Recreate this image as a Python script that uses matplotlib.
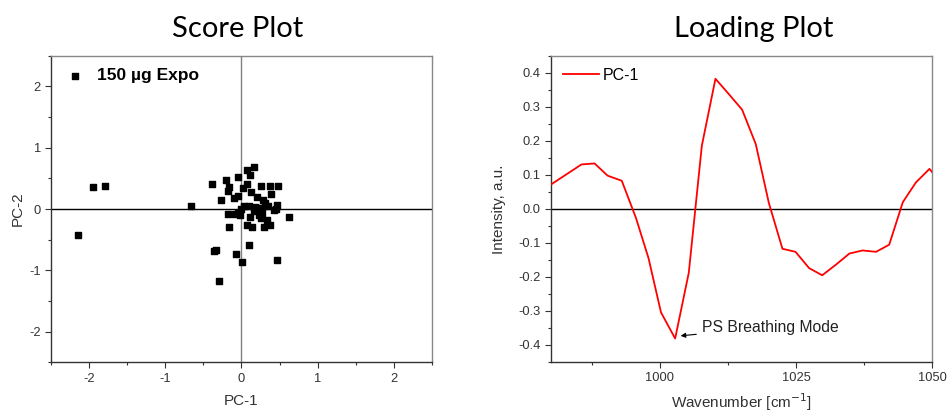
import numpy as np
import matplotlib
matplotlib.use("Agg")
import matplotlib.pyplot as plt
from matplotlib.ticker import MultipleLocator, FixedLocator

plt.rcParams['font.family'] = ['Liberation Sans', 'DejaVu Sans']
plt.rcParams['axes.unicode_minus'] = False

# --- score plot data (PC-1, PC-2) ---
pc1 = [-1.95, -1.79, -2.15, -0.66, -0.385, -0.36, -0.33, -0.29, -0.27,
       -0.197, -0.166, -0.175, -0.18, -0.166, -0.10, -0.066, -0.044,
       -0.044, -0.08, -0.048, 0.004, 0.02, 0.074, 0.17, 0.11, 0.074,
       0.13, 0.21, 0.26, 0.38, 0.477, 0.39, 0.28, 0.47, 0.45, 0.62,
       0.03, 0.096, 0.18, 0.25, 0.27, 0.118, 0.074, 0.14, 0.29, 0.38,
       0.25, 0.34, 0.096, 0.47, -0.022, 0.2, 0.31, 0.43, 0.16, 0.23,
       -0.01, 0.35]
pc2 = [0.366, 0.377, -0.42, 0.044, 0.40, -0.69, -0.67, -1.17, 0.14,
       0.475, 0.365, 0.29, -0.076, -0.29, 0.175, -0.74, 0.53,
       0.21, -0.087, -0.065, -0.86, 0.34, 0.64, 0.68, 0.55, 0.41,
       0.28, 0.20, 0.38, 0.38, 0.38, 0.24, 0.147, 0.065, 0.0, -0.125,
       0.044, 0.055, 0.033, 0.016, -0.065, -0.125, -0.26, -0.29, -0.29, -0.26,
       -0.153, -0.18, -0.595, -0.835, -0.093, 0.02, 0.1, -0.02, -0.03, -0.1,
       0.0, 0.05]

# --- loading plot data (PC-1) ---
wavenumber = [980.0, 985.6, 988.0, 990.4, 993.0, 995.6, 997.9, 1000.2, 1002.8,
              1005.3, 1007.7, 1010.2, 1012.6, 1015.1, 1017.6, 1020.0, 1022.5,
              1024.9, 1027.4, 1029.8, 1032.3, 1034.8, 1037.2, 1039.7, 1042.1,
              1044.6, 1047.0, 1049.5, 1050.5]
loading = [0.072, 0.131, 0.134, 0.098, 0.083, -0.026, -0.144, -0.304, -0.381,
           -0.188, 0.186, 0.383, 0.339, 0.292, 0.191, 0.018, -0.117,
           -0.126, -0.174, -0.195, -0.164, -0.131, -0.122, -0.126, -0.105,
           0.02, 0.078, 0.118, 0.098]

fig = plt.figure(figsize=(9.47, 4.12), dpi=100)
ax1 = fig.add_axes([0.0541, 0.1206, 0.4018, 0.7442])
ax2 = fig.add_axes([0.5818, 0.1214, 0.4026, 0.7427])

tick_color = '#333333'


def style_axes(ax):
    for side in ['left', 'bottom']:
        ax.spines[side].set_color('#333333')
    for side in ['top', 'right']:
        ax.spines[side].set_color('#888888')
    for sp in ax.spines.values():
        sp.set_linewidth(1.0)
    ax.tick_params(which='major', direction='out', length=4, width=0.8,
                   colors=tick_color, labelsize=9.3, top=False, right=False)
    ax.tick_params(which='minor', direction='out', length=2.5, width=0.8,
                   colors=tick_color, top=False, right=False)


# --- score plot ---
ax1.axvline(0, color='#808080', lw=1.0, zorder=1)
ax1.axhline(0, color='black', lw=1.0, zorder=1)
ax1.scatter(pc1, pc2, marker='s', s=24, color='black', zorder=3,
            label='150 µg Expo')
ax1.set_xlim(-2.5, 2.5)
ax1.set_ylim(-2.5, 2.5)
ax1.xaxis.set_major_locator(MultipleLocator(1))
ax1.yaxis.set_major_locator(MultipleLocator(1))
ax1.xaxis.set_minor_locator(MultipleLocator(0.5))
ax1.yaxis.set_minor_locator(MultipleLocator(0.5))
style_axes(ax1)
ax1.set_xlabel('PC-1', fontsize=11, color=tick_color, labelpad=7)
ax1.set_ylabel('PC-2', fontsize=11, color=tick_color, labelpad=3)
ax1.legend(loc='upper left', bbox_to_anchor=(0.005, 1.005), frameon=False,
           handletextpad=0.8, borderpad=0.3, handlelength=0.9,
           prop={'weight': 'bold', 'size': 12.5})

# --- loading plot ---
ax2.axhline(0, color='black', lw=1.0, zorder=1)
ax2.plot(wavenumber, loading, color='red', lw=1.3, label='PC-1', zorder=3)
ax2.set_xlim(980, 1050)
ax2.set_ylim(-0.45, 0.45)
ax2.xaxis.set_major_locator(FixedLocator([1000, 1025, 1050]))
ax2.xaxis.set_minor_locator(FixedLocator([987.5, 1012.5, 1037.5]))
ax2.yaxis.set_major_locator(MultipleLocator(0.1))
ax2.yaxis.set_minor_locator(MultipleLocator(0.05))
ax2.yaxis.set_major_formatter(plt.FormatStrFormatter('%.1f'))
style_axes(ax2)
ax2.set_xlabel('Wavenumber [cm$^{-1}$]', fontsize=11, color=tick_color,
               labelpad=5)
ax2.set_ylabel('Intensity, a.u.', fontsize=11, color=tick_color, labelpad=9)
ax2.legend(loc='upper left', bbox_to_anchor=(-0.005, 1.005), frameon=False,
           handlelength=2.3, handletextpad=0.2, borderpad=0.35,
           prop={'size': 11.5})
ax2.annotate('PS Breathing Mode', xy=(1003.8, -0.373), xytext=(1007.7, -0.348),
             fontsize=11.3, color='#222222', va='center', ha='left',
             arrowprops=dict(arrowstyle='-|>', color='black', lw=0.8,
                             mutation_scale=7, shrinkA=2, shrinkB=0))

# --- titles ---
fig.text(0.2508, 0.93, 'Score Plot', fontsize=21, family=['Lato', 'DejaVu Sans'],
         ha='center', va='center')
fig.text(0.7963, 0.93, 'Loading Plot', fontsize=21, family=['Lato', 'DejaVu Sans'],
         ha='center', va='center')

fig.savefig('out.png', dpi=100)
